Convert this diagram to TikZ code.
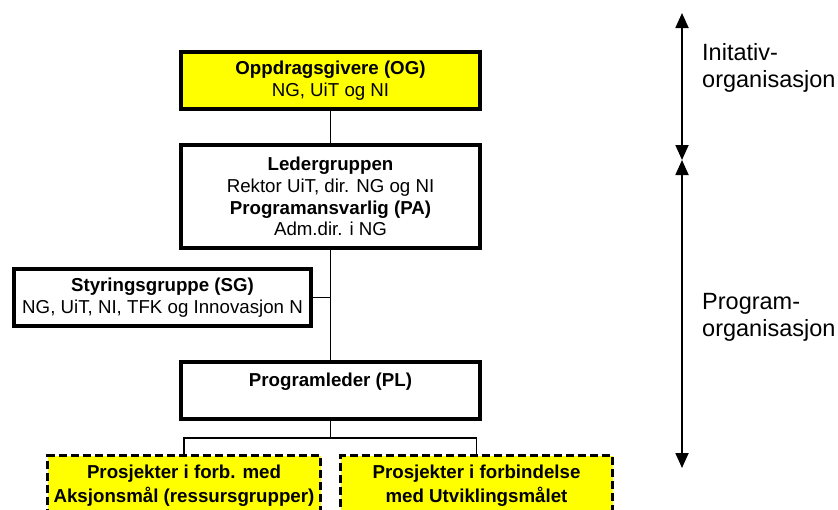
\documentclass[tikz,border=0pt]{standalone}
\usepackage{fontspec}
\setmainfont{Liberation Sans}
\usetikzlibrary{arrows.meta}
\definecolor{boxyellow}{RGB}{255,255,0}
\tikzset{
  orgbox/.style={draw=black, line width=3.6pt, fill=white, align=center,
    minimum width=299.4pt, minimum height=57.4pt, inner sep=0pt,
    font=\fontsize{18.7}{21.7}\selectfont},
  yellowbox/.style={orgbox, fill=boxyellow},
  projbox/.style={draw=black, line width=3pt, dash pattern=on 8pt off 4pt,
    fill=boxyellow, align=center, minimum width=273pt, minimum height=61pt,
    inner sep=0pt, font=\fontsize{18.7}{24}\selectfont\bfseries},
  conn/.style={draw=black, line width=1.1pt},
  span/.style={draw=black, line width=1.8pt, {Triangle[length=15pt,width=13pt]}-{Triangle[length=15pt,width=13pt]}},
  sidelabel/.style={align=left, inner sep=0pt, anchor=west,
    font=\fontsize{23.5}{27}\selectfont}
}
\begin{document}
\begin{tikzpicture}[x=1pt,y=-1pt]
\clip (0,0) rectangle (838,509);
\fill[white] (0,0) rectangle (838,509);

\node[yellowbox] (og) at (330.5,80.5) {\textbf{Oppdragsgivere (OG)}\\NG, UiT og NI};
\node[orgbox, minimum height=103.4pt] (lg) at (330.5,196.5)
  {\textbf{Ledergruppen}\\Rektor UiT, dir. NG og NI\\\textbf{Programansvarlig (PA)}\\Adm.dir. i NG};
\node[orgbox, minimum width=297.4pt] (sg) at (162.5,297.5)
  {\textbf{Styringsgruppe (SG)}\\NG, UiT, NI, TFK og Innovasjon N};
\node[orgbox] (pl) at (330.5,390.5) {\textbf{Programleder (PL)}\\\mbox{}};
\node[projbox] (pa) at (184,486) {Prosjekter i forb. med\\Aksjonsmål (ressursgrupper)};
\node[projbox, minimum width=272pt] (pb) at (476.5,486) {Prosjekter i forbindelse\\med Utviklingsmålet};

\coordinate (bus) at (330.5,438);

\draw[conn] (og) -- (lg);
\draw[conn] (lg) -- (pl);
\draw[conn] (sg.east) -- (sg.east -| lg.south);
\draw[conn] (pl) -- (bus);
\draw[conn] (pa.north) |- (bus) -| (pb.north);

\coordinate (a1) at (682,13);
\coordinate (a2) at (682,160);
\coordinate (a3) at (682,468);
\draw[span] (a1) -- (a2);
\draw[span] (a2) -- (a3);

\node[sidelabel] (init) at (702,67.5) {Initativ-\\organisasjon};
\node[sidelabel] (prog) at (702,317.5) {Program-\\organisasjon};
\end{tikzpicture}
\end{document}
